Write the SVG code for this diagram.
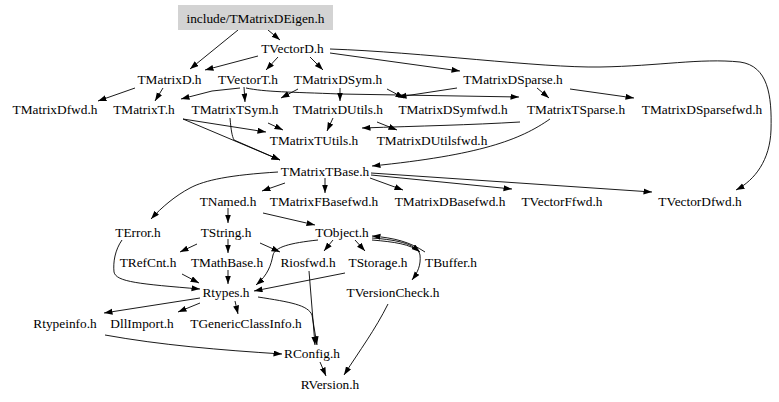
<svg xmlns="http://www.w3.org/2000/svg" width="779" height="402" viewBox="0 0 779 402">
<style>
text{font-family:"Liberation Serif","Times New Roman",serif;font-size:13.33px;fill:#000;text-anchor:middle}
.e path{fill:none;stroke:#000;stroke-width:0.9;marker-end:url(#a)}
</style>
<defs>
<marker id="a" markerWidth="9" markerHeight="7" refX="8.5" refY="3" orient="auto" markerUnits="userSpaceOnUse"><path d="M0,0 L8.5,3 L0,6 z" fill="#000"/></marker>
</defs>
<rect width="779" height="402" fill="#fff"/>
<g class="e" id="edges">
<path d="M238,30 L190,69"/>
<path d="M268,30 L280,40"/>
<path d="M258,56 L205,70"/>
<path d="M278,57 L266,70"/>
<path d="M310,57 L323,70"/>
<path d="M330,53 L460,71"/>
<path d="M330,49 C420,52 540,68 600,67 C660,66 700,58 740,62 C768,66 772,95 771,130 C770,160 755,180 736,190"/>
<path d="M135,88 L98,101"/>
<path d="M163,88 L155,101"/>
<path d="M240,88 L212,91 L181,99"/>
<path d="M244,87 L245,102"/>
<path d="M246,88 C265,92 290,92 340,94 L519,97"/>
<path d="M298,89 L281,98"/>
<path d="M340,88 L340,101"/>
<path d="M387,89 L404,98"/>
<path d="M457,88 L398,97"/>
<path d="M537,88 L549,98"/>
<path d="M570,89 L634,98"/>
<path d="M183,119 L266,132"/>
<path d="M183,119 L280,160"/>
<path d="M230,118 C231,130 232,136 234,140 L280,160"/>
<path d="M268,123 L283,130"/>
<path d="M333,118 L327,131"/>
<path d="M377,122 L397,130"/>
<path d="M520,122 C470,125 420,126 362,128"/>
<path d="M550,119 C520,140 480,155 372,166"/>
<path d="M278,172 C230,175 205,180 190,188 C175,196 162,207 151,219"/>
<path d="M285,183 L262,191"/>
<path d="M325,178 L325,193"/>
<path d="M370,178 L403,190"/>
<path d="M371,175 L512,189"/>
<path d="M371,173 L652,192"/>
<path d="M228,208 L228,223"/>
<path d="M263,213 L315,225"/>
<path d="M197,244 L180,252"/>
<path d="M228,239 L228,253"/>
<path d="M260,243 L280,252"/>
<path d="M318,240 C290,243 275,247 273,255 C271,265 268,275 256,285"/>
<path d="M333,240 L324,251"/>
<path d="M355,240 L365,251"/>
<path d="M425,252 C410,242 395,238 372,236"/>
<path d="M372,240 C395,242 410,244 420,252"/>
<path d="M372,238 C400,240 418,245 420,255 C421,265 418,272 412,280"/>
<path d="M122,240 C115,250 113,262 114,272 C116,282 140,284 200,289"/>
<path d="M182,274 L199,283"/>
<path d="M228,270 L228,284"/>
<path d="M345,273 L254,291"/>
<path d="M309,271 L315,345"/>
<path d="M388,304 C375,330 360,350 344,375"/>
<path d="M200,298 L104,313"/>
<path d="M200,303 L178,312"/>
<path d="M235,301 L238,314"/>
<path d="M258,297 C290,302 308,305 312,315 L317,345"/>
<path d="M105,335 C160,345 220,350 282,354"/>
<path d="M320,362 L326,376"/>
</g>
<g id="n0"><rect x="178" y="5" width="155" height="25" fill="#d3d3d3"/><text x="255.5" y="22.5">include/TMatrixDEigen.h</text></g>
<g id="n1"><text x="292.5" y="52.5">TVectorD.h</text></g>
<g id="n2"><text x="169.5" y="83.5">TMatrixD.h</text></g>
<g id="n3"><text x="248" y="83.5">TVectorT.h</text></g>
<g id="n4"><text x="338" y="83.5">TMatrixDSym.h</text></g>
<g id="n5"><text x="513" y="83.5">TMatrixDSparse.h</text></g>
<g id="n6"><text x="55" y="114">TMatrixDfwd.h</text></g>
<g id="n7"><text x="144" y="114">TMatrixT.h</text></g>
<g id="n8"><text x="235" y="114">TMatrixTSym.h</text></g>
<g id="n9"><text x="338" y="114">TMatrixDUtils.h</text></g>
<g id="n10"><text x="453" y="114">TMatrixDSymfwd.h</text></g>
<g id="n11"><text x="576" y="114">TMatrixTSparse.h</text></g>
<g id="n12"><text x="702" y="114">TMatrixDSparsefwd.h</text></g>
<g id="n13"><text x="314" y="145">TMatrixTUtils.h</text></g>
<g id="n14"><text x="432" y="145">TMatrixDUtilsfwd.h</text></g>
<g id="n15"><text x="325" y="175.5">TMatrixTBase.h</text></g>
<g id="n16"><text x="228" y="206">TNamed.h</text></g>
<g id="n17"><text x="324" y="206">TMatrixFBasefwd.h</text></g>
<g id="n18"><text x="450" y="206">TMatrixDBasefwd.h</text></g>
<g id="n19"><text x="562" y="206">TVectorFfwd.h</text></g>
<g id="n20"><text x="700" y="206">TVectorDfwd.h</text></g>
<g id="n21"><text x="138" y="236.5">TError.h</text></g>
<g id="n22"><text x="226" y="236.5">TString.h</text></g>
<g id="n23"><text x="342" y="236.5">TObject.h</text></g>
<g id="n24"><text x="148" y="267">TRefCnt.h</text></g>
<g id="n25"><text x="227" y="267">TMathBase.h</text></g>
<g id="n26"><text x="308" y="267">Riosfwd.h</text></g>
<g id="n27"><text x="378" y="267">TStorage.h</text></g>
<g id="n28"><text x="451" y="267">TBuffer.h</text></g>
<g id="n29"><text x="226" y="297">Rtypes.h</text></g>
<g id="n30"><text x="393" y="297">TVersionCheck.h</text></g>
<g id="n31"><text x="65" y="327.5">Rtypeinfo.h</text></g>
<g id="n32"><text x="142" y="327.5">DllImport.h</text></g>
<g id="n33"><text x="246" y="327.5">TGenericClassInfo.h</text></g>
<g id="n34"><text x="312" y="358">RConfig.h</text></g>
<g id="n35"><text x="330" y="389">RVersion.h</text></g>
</svg>
